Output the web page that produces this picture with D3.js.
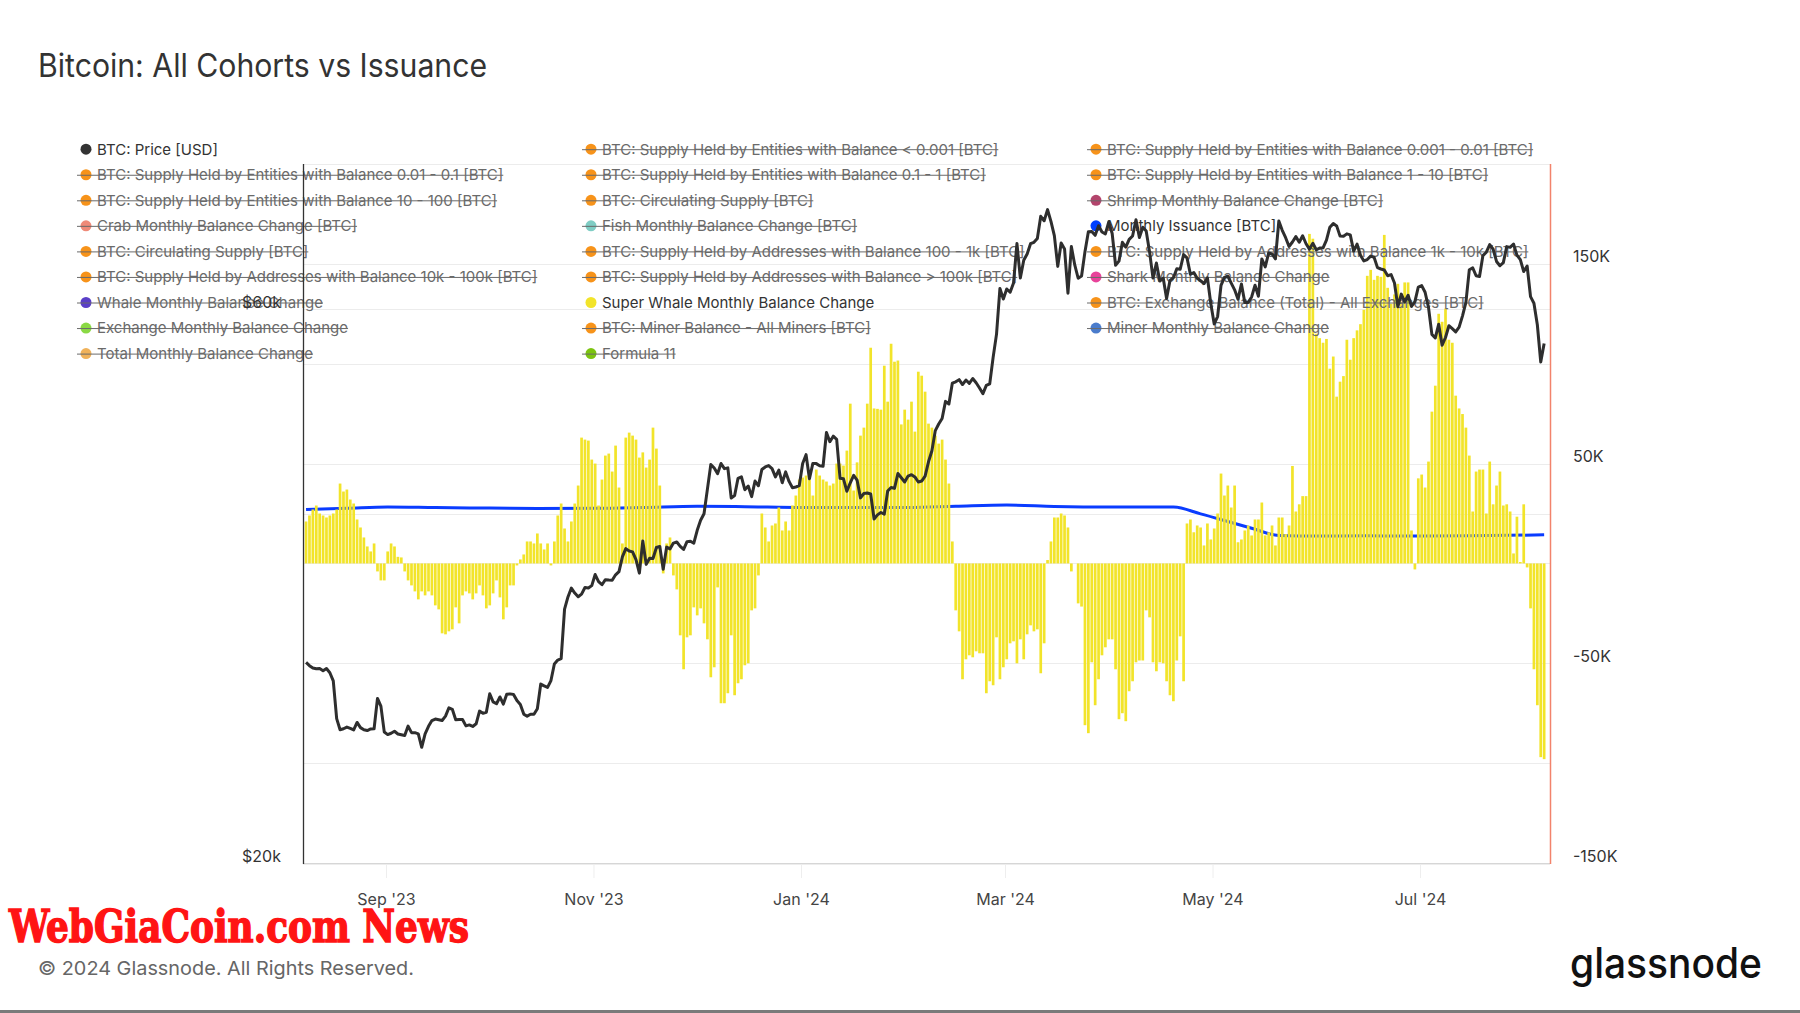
<!DOCTYPE html>
<html><head><meta charset="utf-8">
<script src="https://cdn.jsdelivr.net/npm/d3@7"></script>
<style>
html,body{margin:0;padding:0;background:#fff;}
svg{display:block;font-family:Inter,"Noto Sans",sans-serif;}
</style></head><body>
<svg id="chart" width="1800" height="1013"></svg>
<script>
// ---------------- DATA ----------------
const firstDay = [2023, 7, 8]; // 8 Aug 2023 (UTC), one value per day

const priceUSD = [
29770,29580,29440,29400,29410,29280,29410,29170,28700,26630,26050,26100,26190,26120,26040,26430,26160,26050,26010,26090,26100,27720,27300,25930,
25800,25870,25970,25830,25790,25750,26240,25900,25900,25840,25160,25840,26230,26530,26610,26570,26530,26760,27210,27130,26570,26580,26580,26250,26300,26220,26360,27030,26910,26970,
27980,27530,27430,27800,27410,27950,27970,27940,27600,27390,26870,26760,26860,26860,27160,28520,28420,28330,28720,29680,29910,29990,33090,33900,34500,34160,33910,34090,34540,34500,34670,
35440,34940,34730,35080,35050,35040,35420,35650,36700,37310,37130,37070,36500,35540,37880,36160,36600,36580,37390,37470,35810,37420,37290,37720,37800,37480,37250,37830,37860,37710,
38690,39470,39980,41980,44080,43770,43290,44170,43720,43790,41240,41450,42890,43020,41930,42240,41360,42660,42260,43650,43870,43990,43720,43010,43600,42520,43440,42630,42100,42160,42270,
44170,44950,42850,44180,44160,43970,43930,46970,46120,46630,46340,42890,42850,41800,42510,43150,42740,41260,41620,41660,41580,39570,39890,40080,39950,41820,42120,42040,43300,42940,42580,
43080,43200,43010,42580,42660,43080,44320,45300,47150,47770,48290,49960,49700,51800,51940,52160,51660,52120,51780,52280,51840,51300,50730,51570,51730,54520,57090,62500,61200,
62440,62030,63170,68330,63800,66110,66930,68300,68500,69020,72120,71480,73080,71400,69400,65300,68390,67600,61910,67910,65490,63780,64060,67230,69950,69990,69450,70780,69900,69650,71330,
69700,65450,65980,68500,67840,68900,69360,71630,69150,70580,70060,67200,63800,65740,63430,63810,61280,63510,63840,64990,64930,66840,66410,64290,64500,63770,63460,63120,63840,60640,
58250,59120,62890,63890,64030,63160,62330,61190,63050,60790,60800,61460,62900,61550,66270,65230,67050,66940,66280,71450,70140,69120,67930,68530,69270,68500,69390,68300,67580,68360,67490,
67710,67750,68800,70570,71080,70760,69340,69310,69650,69510,67310,68240,66760,66010,66190,66640,66490,65140,64960,64830,64100,64250,63180,60280,61800,60860,61670,60320,60890,62680,
62850,62030,60200,57060,56660,58230,55850,56710,58050,57720,57340,57890,59200,60790,64870,65100,64100,63990,66710,67160,68190,67560,65940,65380,65780,67910,67810,68260,66780,66190,64630,
65350,61500,60700,58160,54020,56040
];

// Super Whale Monthly Balance Change, thousands of BTC, daily
const superWhaleK = [
21,24,27,29,25,24,23,24,25,27,40,36,37,32,30,22,18,13,8.5,6,10,-4,-8.5,-8.5,6,10,8.5,3.3,3,-4,
-8.5,-11,-14,-18,-14,-16,-14,-16,-21,-23,-35,-35.5,-34,-33,-22,-30,-16,-14,-15,-18,-15,-11,-16,-22.5,-21,-15,-8.5,-17,-28,-22,
-11,-11,-1,2,4.5,11,11,10,15,10,7,10,-1,11,24,30,17.5,11,21,30,39,63,62,61.5,52,50,29,42,54,55,46,59,38,
10,63,65.5,64,62,53,55.6,48,52,68,57.5,39,-5,10,13,-6,-13,-36,-53,-37,-36,-22,-26,-22.5,-30,-38,-57,-52,-12,-70,
-70,-65,-36,-66,-60,-58,-51,-50,-23.5,-22.5,-6,25,18,11,19,20,28,16.5,21,16.5,29,34,42,43,44,42,34,47,44,42,
41,39,40,50,50,49,56.5,80,36.5,50.6,64,68,80,108,77.6,77.4,77,99,81,110,101,101.6,69.6,77,72,81,66,96,94,86,70,68,
64,60,62,52,40,11,-23.5,-34,-58,-48,-46,-47,-44,-45,-45,-65,-59,-61,-37,-58,-52,-48,-40,-39,-50,-38,-48,-35.5,-31,-34,
-33,-55,-40,1.7,11,23,23,25,24,18,-4,0,-20,-21.6,-81,-85,-49.5,-71,-58,-46,-42,-38,-38,-53,-78,-75,-79,-64,-59,-49.5,
-48.6,-48.6,-23.5,-27,-49.5,-54,-49.5,-50,-59,-66,-69,-48.6,-36.5,-59,20,22,15.6,19,18,9,20,12,17.5,25,45,34,39,28,39,10.6,12,16.5,19,
14,22,22,30.5,14,15.6,19,9,23,23,14.7,19,48.8,26,29.6,33.7,33.7,165,162.6,115,112.8,110.5,112.4,97.5,103.6,83.5,91,93.8,112,102,
112.8,116.7,119.8,127,144,147,142,144,143.5,164.5,138,130,134.7,140,131,140.7,140.7,16.5,-3,42.6,44.5,38,51,76,89,125,121,127.6,112,110.5,
84,77.6,74.8,68,54,26,46,47,47,25,51,29.6,39,46,29,29.6,26,5,23.4,0.7,29.6,-2,-22.5,-53,-71,-97,-98
];

// Monthly Issuance [BTC], thousands of BTC
const issuanceDates = ["2023-08-08","2023-08-20","2023-09-01","2023-09-15","2023-10-01","2023-10-15","2023-11-01","2023-11-15",
  "2023-12-01","2023-12-15","2024-01-01","2024-01-15","2024-02-01","2024-02-15","2024-03-01","2024-03-15","2024-04-01",
  "2024-04-19","2024-04-27","2024-05-05","2024-05-12","2024-05-20","2024-06-01","2024-06-15","2024-07-01","2024-07-15","2024-08-06"];
const issuanceK = [27.0,27.6,28.3,28.0,27.7,27.5,27.6,28.0,28.6,28.4,28.0,28.0,28.0,28.6,29.2,28.5,28.2,
  28.2,24.8,21.0,17.6,14.0,13.7,13.8,13.7,13.8,14.3];

const xTickDates = ["2023-09-01","2023-11-01","2024-01-01","2024-03-01","2024-05-01","2024-07-01"];
const leftTickValues = [20000, 60000];
const leftGridValues = [40000, 60000];
const rightTickValues = [150000, 50000, -50000, -150000];
const rightGridValues = [200000, 150000, 100000, 50000, 0, -50000, -100000, -150000];

const legendLabels = [
 "BTC: Price [USD]","BTC: Supply Held by Entities with Balance < 0.001 [BTC]","BTC: Supply Held by Entities with Balance 0.001 - 0.01 [BTC]",
 "BTC: Supply Held by Entities with Balance 0.01 - 0.1 [BTC]","BTC: Supply Held by Entities with Balance 0.1 - 1 [BTC]","BTC: Supply Held by Entities with Balance 1 - 10 [BTC]",
 "BTC: Supply Held by Entities with Balance 10 - 100 [BTC]","BTC: Circulating Supply [BTC]","Shrimp Monthly Balance Change [BTC]",
 "Crab Monthly Balance Change [BTC]","Fish Monthly Balance Change [BTC]","Monthly Issuance [BTC]",
 "BTC: Circulating Supply [BTC]","BTC: Supply Held by Addresses with Balance 100 - 1k [BTC]","BTC: Supply Held by Addresses with Balance 1k - 10k [BTC]",
 "BTC: Supply Held by Addresses with Balance 10k - 100k [BTC]","BTC: Supply Held by Addresses with Balance > 100k [BTC]","Shark Monthly Balance Change",
 "Whale Monthly Balance Change","Super Whale Monthly Balance Change","BTC: Exchange Balance (Total) - All Exchanges [BTC]",
 "Exchange Monthly Balance Change","BTC: Miner Balance - All Miners [BTC]","Miner Monthly Balance Change",
 "Total Monthly Balance Change","Formula 11"
];
const legendColors = [
 "#333333","#f7931a","#f7931a",
 "#f7931a","#f7931a","#f7931a",
 "#f7931a","#f7931a","#b3446c",
 "#ef8a78","#7fcdc4","#0040ff",
 "#f7931a","#f7931a","#f7931a",
 "#f7931a","#f7931a","#e8439a",
 "#5a3fc8","#f2e42a","#f7931a",
 "#8ad944","#f7931a","#4a7ccc",
 "#f0b25a","#7cc410"
];
const legendActive = [0, 11, 19];

// ---------------- CHART ----------------
const svg = d3.select("#chart");
const L = 303, R = 1550, T = 164, B = 863;
const dayDate = k => new Date(Date.UTC(firstDay[0], firstDay[1], firstDay[2] + k, 12));
const parse = d3.utcParse("%Y-%m-%d");

const x = d3.scaleUtc()
  .domain([new Date(Date.UTC(2023,7,7,14,24)), new Date(Date.UTC(2024,7,8,5,20))])
  .range([L, R]);
const yL = d3.scaleLog().domain([20000, 80000]).range([B, T]);
const yR = d3.scaleLinear().domain([-150000, 200000]).range([B, T]);

svg.append("rect").attr("width",1800).attr("height",1013).attr("fill","#fff");

// title
svg.append("text").attr("x",38).attr("y",77).attr("font-size",32).attr("fill","#333")
  .attr("textLength",449).attr("lengthAdjust","spacingAndGlyphs")
  .text("Bitcoin: All Cohorts vs Issuance");

// grid
const grid = svg.append("g");
grid.selectAll("line.r").data(rightGridValues).join("line")
  .attr("x1",L).attr("x2",R).attr("y1",d=>Math.round(yR(d))+0.5).attr("y2",d=>Math.round(yR(d))+0.5)
  .attr("stroke","#ececec").attr("stroke-width",1);
grid.selectAll("line.l").data(leftGridValues).join("line")
  .attr("x1",L).attr("x2",R).attr("y1",d=>Math.round(yL(d))+0.5).attr("y2",d=>Math.round(yL(d))+0.5)
  .attr("stroke","#ececec").attr("stroke-width",1);
// bottom border with shadow
svg.append("line").attr("x1",L).attr("x2",R).attr("y1",B+0.5).attr("y2",B+0.5).attr("stroke","#d6d6d6");
svg.append("line").attr("x1",L).attr("x2",R).attr("y1",B+1.5).attr("y2",B+1.5).attr("stroke","#ededed");

// issuance line (behind bars)
const issData = issuanceDates.map((d,i)=>({date:d3.utcHour.offset(parse(d),12), v:issuanceK[i]*1000}));
svg.append("path").datum(issData)
  .attr("d", d3.line().x(d=>x(d.date)).y(d=>yR(d.v)).curve(d3.curveMonotoneX))
  .attr("fill","none").attr("stroke","#0a3cff").attr("stroke-width",3);

// bars
const barData = superWhaleK.map((v,k)=>({date:dayDate(k), v:v*1000}));
const slot = x(dayDate(1)) - x(dayDate(0));
const bw = slot - 0.7;
svg.append("g").selectAll("rect").data(barData).join("rect")
  .attr("x", d=>x(d.date)-bw/2).attr("width", bw)
  .attr("y", d=>Math.min(yR(d.v), yR(0))).attr("height", d=>Math.abs(yR(d.v)-yR(0)))
  .attr("fill","#f2e42a");

// legend
const colX = [86, 591, 1096];
const leg = svg.append("g").attr("font-size",15);
legendLabels.forEach((lab,i)=>{
  const row = Math.floor(i/3), col = i%3;
  const cx = colX[col], cy = 149.2 + row*25.55;
  const active = legendActive.includes(i);
  const t = leg.append("text").attr("x",cx+11).attr("y",cy+5.3)
    .attr("fill", active ? "#333" : "#6a6a6a").text(lab);
  leg.append("circle").attr("cx",cx).attr("cy",cy).attr("r",5.5).attr("fill",legendColors[i]);
  if(!active){
    const w = t.node().getComputedTextLength();
    leg.append("line").attr("x1",cx-9).attr("x2",cx+11+w).attr("y1",cy+0.5).attr("y2",cy+0.5)
      .attr("stroke","#6a6a6a").attr("stroke-width",1);
  }
});

// price line (on top)
const priceData = priceUSD.map((v,k)=>({date:dayDate(k), v}));
svg.append("path").datum(priceData)
  .attr("d", d3.line().x(d=>x(d.date)).y(d=>yL(d.v)))
  .attr("fill","none").attr("stroke","#2e2e2e").attr("stroke-width",3).attr("stroke-linejoin","round");

// axes lines
svg.append("line").attr("x1",L+0.5).attr("x2",L+0.5).attr("y1",T).attr("y2",B+1).attr("stroke","#333").attr("stroke-width",1.3);
svg.append("line").attr("x1",R+0.5).attr("x2",R+0.5).attr("y1",T).attr("y2",B+1).attr("stroke","#f2836b").attr("stroke-width",1.5);

// left axis
const axL = svg.append("g").attr("transform",`translate(${L},0)`)
  .call(d3.axisLeft(yL).tickValues(leftTickValues).tickSize(0).tickPadding(22).tickFormat(d=>"$"+(d/1000)+"k"));
axL.select(".domain").remove();
axL.selectAll("text").attr("font-size",16).attr("fill","#333").attr("dy","-0.12em").attr("font-family","Inter");

// right axis
const axR = svg.append("g").attr("transform",`translate(${R},0)`)
  .call(d3.axisRight(yR).tickValues(rightTickValues).tickSize(0).tickPadding(23).tickFormat(d=>(d/1000)+"K"));
axR.select(".domain").remove();
axR.selectAll("text").attr("font-size",16).attr("fill","#333").attr("dy","-0.12em").attr("font-family","Inter");

// x axis
const axX = svg.append("g").attr("transform",`translate(0,${B+2})`)
  .call(d3.axisBottom(x).tickValues(xTickDates.map(parse)).tickSize(13).tickPadding(16).tickFormat(d3.utcFormat("%b '%y")));
axX.select(".domain").remove();
axX.selectAll(".tick line").attr("stroke","#eeeeee");
axX.selectAll("text").attr("font-size",16).attr("fill","#444").attr("font-family","Inter");

// footer
svg.append("text").attr("x",9).attr("y",942).attr("font-size",44).attr("font-weight","bold")
  .attr("font-family","'DejaVu Serif', serif").attr("font-stretch","condensed")
  .attr("fill","#ff1414").attr("stroke","#ff1414").attr("stroke-width",1.4)
  .attr("textLength",460).attr("lengthAdjust","spacingAndGlyphs")
  .text("WebGiaCoin.com News");
svg.append("text").attr("x",38).attr("y",975).attr("font-size",19).attr("fill","#666")
  .attr("textLength",376).attr("lengthAdjust","spacingAndGlyphs")
  .text("© 2024 Glassnode. All Rights Reserved.");
svg.append("text").attr("x",1570).attr("y",978).attr("font-size",42).attr("font-weight",500).attr("fill","#111")
  .attr("textLength",192).attr("lengthAdjust","spacingAndGlyphs").text("glassnode");
svg.append("rect").attr("x",0).attr("y",1010).attr("width",1800).attr("height",3).attr("fill","#7a7a7a");
</script>
</body></html>
